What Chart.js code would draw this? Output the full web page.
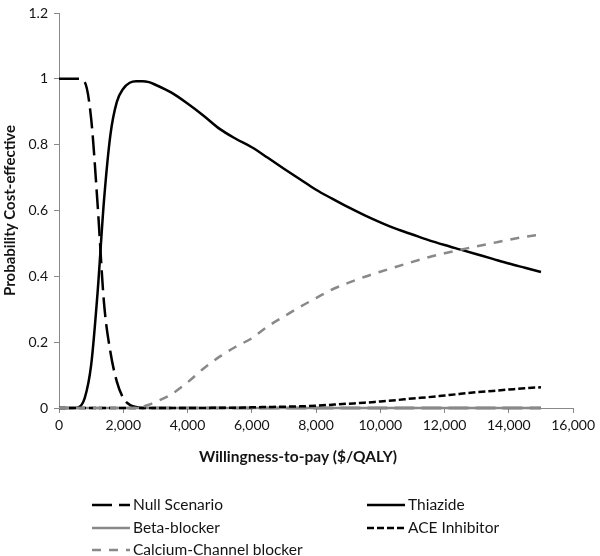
<!DOCTYPE html>
<html lang="en">
<head>
  <meta charset="UTF-8" />
  <title>Probability Cost-effective vs Willingness-to-pay</title>
  <script src="https://cdn.jsdelivr.net/npm/chart.js"></script>
  <style>
    body { margin: 0; background: #fff; }
    canvas { display: block; }
  </style>
</head>
<body>
  <canvas id="ceac" width="600" height="556"></canvas>

  <script>
    // Willingness-to-pay ($/QALY) grid the curves were read on
    const wtp = [0, 200, 400, 600, 800, 1000, 1200, 1400, 1600, 1800, 2000, 2200, 2400, 2600, 2800, 3000,
      3500, 4000, 4500, 5000, 5500, 6000, 6500, 7000, 7500, 8000, 8500, 9000, 9500, 10000,
      10500, 11000, 11500, 12000, 12500, 13000, 13500, 14000, 14500, 15000];

    const nullScenario = [1, 1, 1, 1, 0.99, 0.88, 0.62, 0.32, 0.17, 0.08, 0.03, 0.01, 0.003, 0, 0, 0,
      0, 0, 0, 0, 0, 0, 0, 0, 0, 0, 0, 0, 0, 0,
      0, 0, 0, 0, 0, 0, 0, 0, 0, 0];

    const thiazide = [0, 0, 0, 0.002, 0.03, 0.13, 0.35, 0.63, 0.83, 0.93, 0.97, 0.988, 0.993, 0.993, 0.99, 0.982,
      0.958, 0.925, 0.888, 0.848, 0.818, 0.792, 0.76, 0.727, 0.695, 0.663, 0.636, 0.61, 0.586, 0.564,
      0.544, 0.527, 0.51, 0.495, 0.481, 0.467, 0.453, 0.439, 0.426, 0.413];

    const betaBlocker = [0, 0, 0, 0, 0, 0, 0, 0, 0, 0, 0, 0, 0, 0, 0, 0,
      0, 0, 0, 0, 0, 0, 0, 0, 0, 0, 0, 0, 0, 0,
      0, 0, 0, 0, 0, 0, 0, 0, 0, 0];

    const aceInhibitor = [0, 0, 0, 0, 0, 0, 0, 0, 0, 0, 0, 0, 0, 0, 0, 0,
      0, 0, 0, 0.001, 0.001, 0.002, 0.003, 0.004, 0.005, 0.007, 0.01, 0.013, 0.016, 0.02,
      0.024, 0.029, 0.033, 0.038, 0.043, 0.048, 0.052, 0.056, 0.06, 0.063];

    const calciumChannel = [0, 0, 0, 0, 0, 0, 0, 0, 0, 0, 0, 0, 0, 0.004, 0.01, 0.018,
      0.042, 0.078, 0.12, 0.156, 0.186, 0.212, 0.248, 0.278, 0.307, 0.334, 0.36, 0.38, 0.398, 0.414,
      0.429, 0.444, 0.458, 0.47, 0.481, 0.491, 0.501, 0.511, 0.52, 0.527];

    const xTitle = 'Willingness-to-pay ($/QALY)';
    const yTitle = 'Probability Cost-effective';

    const BLACK = '#000000';
    const GREY = '#898989';
    const TEXT = '#141414';
    const FONT = 'Lato, "Open Sans", sans-serif';
    Chart.defaults.font.family = FONT;

    const pts = ys => wtp.map((x, i) => ({ x: x, y: ys[i] }));

    // series, in the order the legend reads (left col, right col, ...)
    const series = [
      { label: 'Null Scenario', data: pts(nullScenario), borderColor: BLACK, borderDash: [20, 7] },
      { label: 'Thiazide', data: pts(thiazide), borderColor: BLACK, borderDash: [] },
      { label: 'Beta-blocker', data: pts(betaBlocker), borderColor: GREY, borderDash: [] },
      { label: 'ACE Inhibitor', data: pts(aceInhibitor), borderColor: BLACK, borderDash: [7, 3] },
      { label: 'Calcium-Channel blocker', data: pts(calciumChannel), borderColor: GREY, borderDash: [9, 8] }
    ].map((s, i) => Object.assign(s, {
      borderWidth: 2.5,
      pointRadius: 0,
      fill: false,
      cubicInterpolationMode: 'monotone',
      clip: false,
      order: 5 - i
    }));

    // legend slots: [line start x, row y]
    const legendSlots = [[92, 505], [367, 505], [92, 528], [367, 528], [92, 550]];

    const bottomTexts = {
      id: 'bottomTexts',
      afterDraw(chart) {
        const ctx = chart.ctx;
        ctx.save();
        ctx.fillStyle = TEXT;
        ctx.textBaseline = 'middle';
        ctx.textAlign = 'center';
        ctx.font = 'bold 15.5px ' + FONT;
        ctx.fillText(xTitle, 298, 457);

        ctx.textAlign = 'left';
        ctx.font = '15.5px ' + FONT;
        chart.data.datasets.forEach((ds, i) => {
          const [lx, ly] = legendSlots[i];
          ctx.save();
          ctx.strokeStyle = ds.borderColor;
          ctx.lineWidth = ds.borderWidth;
          ctx.setLineDash(ds.borderDash || []);
          ctx.beginPath();
          ctx.moveTo(lx, ly);
          ctx.lineTo(lx + 38, ly);
          ctx.stroke();
          ctx.restore();
          ctx.fillText(ds.label, lx + 41, ly);
        });
        ctx.restore();
      }
    };

    new Chart(document.getElementById('ceac'), {
      type: 'line',
      data: { datasets: series },
      plugins: [bottomTexts],
      options: {
        responsive: false,
        animation: false,
        devicePixelRatio: 1,
        layout: { padding: { left: 0, right: 25, top: 7, bottom: 0 } },
        plugins: { legend: { display: false }, tooltip: { enabled: false } },
        scales: {
          x: {
            type: 'linear',
            min: 0, max: 16000,
            afterFit: s => { s.height = 148; },
            border: { color: GREY, width: 1 },
            grid: { drawOnChartArea: false, tickLength: 5, color: GREY },
            ticks: {
              stepSize: 2000, padding: 5, color: TEXT,
              font: { size: 14, lineHeight: 1 },
              maxRotation: 0,
              callback: v => v.toLocaleString('en-US')
            }
          },
          y: {
            min: 0, max: 1.2,
            afterFit: s => { s.width = 59; },
            border: { color: GREY, width: 1 },
            grid: { drawOnChartArea: false, tickLength: 5, color: GREY },
            ticks: {
              stepSize: 0.2, padding: 6, color: TEXT,
              font: { size: 14, lineHeight: 1 },
              callback: v => String(Math.round(v * 10) / 10)
            },
            title: {
              display: true, text: yTitle, color: TEXT,
              font: { size: 15, weight: 'bold' },
              padding: { top: 1, bottom: 0 }
            }
          }
        }
      }
    });
  </script>
</body>
</html>
